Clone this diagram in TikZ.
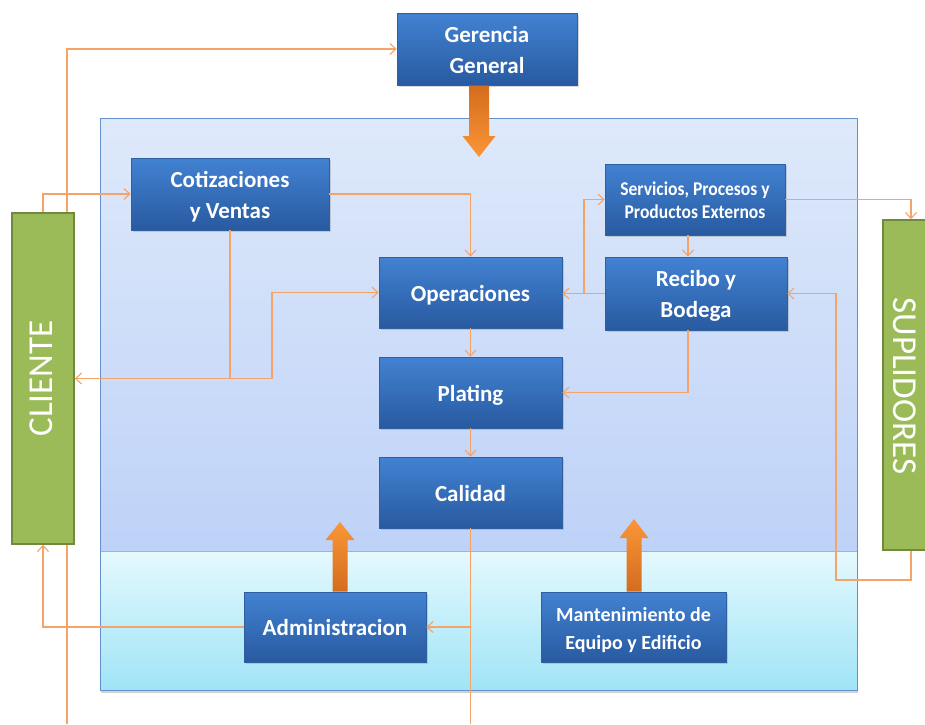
\documentclass[tikz,border=0pt]{standalone}
\usepackage{fontspec}
\setmainfont{Carlito}
\usetikzlibrary{arrows.meta,shadows}

\definecolor{connc}{RGB}{246,163,104}
\definecolor{boxtop}{RGB}{66,130,210}
\definecolor{boxbot}{RGB}{40,90,160}
\definecolor{boxline}{RGB}{48,95,160}
\definecolor{grnfill}{RGB}{155,187,89}
\definecolor{grnline}{RGB}{113,137,63}
\definecolor{pantop}{RGB}{222,233,250}
\definecolor{panbot}{RGB}{190,210,248}
\definecolor{lowtop}{RGB}{228,249,253}
\definecolor{lowbot}{RGB}{160,228,247}
\definecolor{panline}{RGB}{100,145,205}
\definecolor{lowline}{RGB}{125,195,225}
\definecolor{arrlight}{RGB}{250,150,55}
\definecolor{arrdark}{RGB}{212,108,30}

% box label: centred lines, set a little below the optical centre
\newcommand\unittext[1]{\raisebox{-2.5pt}[\height][\depth]{\begin{tabular}{@{}c@{}}#1\end{tabular}}}

\begin{document}
\begin{tikzpicture}[x=1pt,y=-1pt,
  unit/.style={draw=boxline, line width=0.6pt, top color=boxtop, bottom color=boxbot,
    text=white, font=\fontsize{23}{31}\selectfont\bfseries, inner sep=0pt,
    drop shadow={opacity=0.3, shadow xshift=1.5pt, shadow yshift=-2pt}},
  party/.style={draw=grnline, line width=1.5pt, fill=grnfill, inner sep=0pt},
  partylabel/.style={text=white, font=\fontsize{35}{40}\selectfont, inner sep=0pt},
  conn/.style={draw=connc, line width=1.1pt},
  flow/.style={conn, -{Straight Barb[length=6pt,width=11pt]}},
  blockarrow/.style={draw=none}
  ]
\useasboundingbox (0,0) rectangle (925,724);
\clip (0,0) rectangle (925,724);
\fill[white] (0,0) rectangle (925,724);

% company panel: main area and support area
\fill[white, drop shadow={opacity=0.35, shadow xshift=1pt, shadow yshift=-2.5pt}] (100,118) rectangle (857,690);
\shade[top color=pantop, bottom color=panbot] (100,118) rectangle (857,551);
\shade[top color=lowtop, bottom color=lowbot] (100,551) rectangle (857,690);
\draw[lowline, line width=0.8pt] (100,551) -- (857,551);
\draw[panline, line width=0.8pt] (100,118) rectangle (857,690);

% departments
\node[unit, minimum width=180pt, minimum height=72pt] (ger) at (487,49) {\unittext{Gerencia\\General}};
\node[unit, minimum width=198pt, minimum height=72pt] (cot) at (230,194) {\unittext{Cotizaciones\\y Ventas}};
\node[unit, minimum width=180pt, minimum height=71pt,
  font=\fontsize{19.5}{23}\selectfont\bfseries\addfontfeature{FakeStretch=0.9}] (serv) at (695,199.5) {\unittext{Servicios, Procesos y\\Productos Externos}};
\node[unit, minimum width=183pt, minimum height=71pt] (ope) at (470.5,292.5) {\unittext{Operaciones}};
\node[unit, minimum width=182pt, minimum height=73pt] (rec) at (696,293.5) {\unittext{Recibo y\\Bodega}};
\node[unit, minimum width=183pt, minimum height=71pt] (pla) at (470.5,392.5) {\unittext{Plating}};
\node[unit, minimum width=183pt, minimum height=71pt] (cal) at (470.5,492.5) {\unittext{Calidad}};
\node[unit, minimum width=182pt, minimum height=70pt] (adm) at (335,627) {\unittext{Administracion}};
\node[unit, minimum width=185pt, minimum height=70pt,
  font=\fontsize{20}{28}\selectfont\bfseries] (man) at (633.5,627) {\unittext{Mantenimiento de\\Equipo y Edificio}};

% free ends of the lines that leave the page
\coordinate (cliin) at (67,724);
\coordinate (calout) at (470.5,724);
\coordinate (cotsplit) at (272,378.5);
\coordinate (recsplit) at (584,293.5);
\coordinate (suploop) at (836,580);

% customer line up to management (runs behind the customer bar)
\draw[flow] (cliin) |- (ger.west);

% external parties
\node[party, minimum width=62pt, minimum height=331pt] (cli) at (43,378.5) {};
\node[partylabel, rotate=90] (clitext) at (41,378.5) {CLIENTE};
\node[party, minimum width=62pt, minimum height=330pt] (sup) at (914,385) {};
\node[partylabel, rotate=-90] (suptext) at (905,386) {SUPLIDORES};

% connectors
\draw[flow] (cli.north) |- (cot.west);
\draw[flow] (cot.east) -| (ope.north);
\draw[flow] (cot.south) |- (cli.east);
\draw[flow] (cot.south |- cotsplit) -- (cotsplit) |- (ope.west);
\draw[flow] (ope.south) -- (pla.north);
\draw[flow] (pla.south) -- (cal.north);
\draw[flow] (rec.west) -- (rec.west -| ope.east);
\draw[flow] (recsplit) |- (serv.west);
\draw[flow] ([xshift=-7pt]serv.south) -- ([xshift=-7pt]serv.south |- rec.north);
\draw[flow] (serv.east) -| ([xshift=-3pt]sup.north);
\draw[flow] ([xshift=-3pt]sup.south) |- (suploop) |- (rec.east);
\draw[flow] ([xshift=-8pt]rec.south) |- (pla.east);
\draw[conn] (cal.south) -- (calout);
\draw[flow] (cal.south |- adm.east) -- (adm.east);
\draw[flow] (adm.west) -| (cli.south);

% block arrows: direction and support
\shade[blockarrow, top color=arrdark, bottom color=arrlight]
  (469,85.5) -- (489,85.5) -- (489,136) -- (495.5,136) -- (479,157) -- (462.5,136) -- (469,136) -- cycle;
\shade[blockarrow, top color=arrlight, bottom color=arrdark]
  (332.5,591.5) -- (347.5,591.5) -- (347.5,540) -- (354.5,540) -- (340,522) -- (325.5,540) -- (332.5,540) -- cycle;
\shade[blockarrow, top color=arrlight, bottom color=arrdark]
  (626.5,591.5) -- (641.5,591.5) -- (641.5,538) -- (648.5,538) -- (634,519) -- (619.5,538) -- (626.5,538) -- cycle;
\end{tikzpicture}
\end{document}
